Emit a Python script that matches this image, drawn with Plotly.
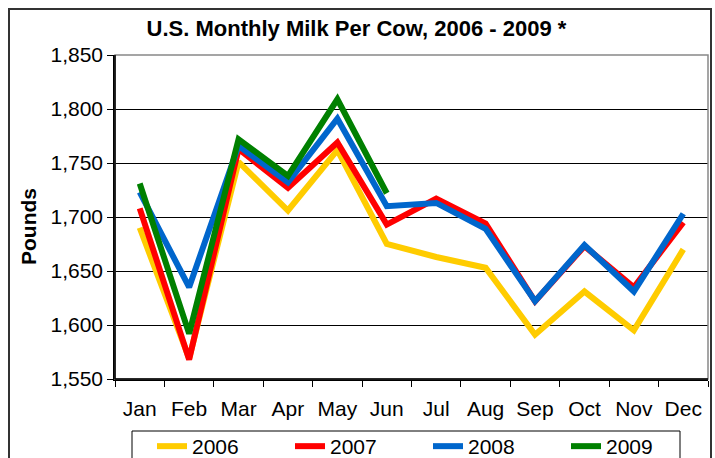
import plotly.graph_objects as go

months = ["Jan", "Feb", "Mar", "Apr", "May", "Jun", "Jul", "Aug", "Sep", "Oct", "Nov", "Dec"]
y2006 = [1690, 1569, 1751, 1706, 1762, 1675, 1663, 1653, 1591, 1631, 1595, 1670]
y2007 = [1708, 1568, 1763, 1727, 1769, 1693, 1717, 1694, 1622, 1673, 1635, 1695]
y2008 = [1723, 1635, 1766, 1732, 1791, 1710, 1713, 1689, 1622, 1674, 1631, 1703]
y2009 = [1731, 1592, 1772, 1738, 1809, 1722]

series = [
    ("2006", y2006, "#FFCC00"),
    ("2007", y2007, "#FF0000"),
    ("2008", y2008, "#0066CC"),
    ("2009", y2009, "#008000"),
]

FONT = "Liberation Sans, Arial, sans-serif"

fig = go.Figure()
for name, vals, color in series:
    fig.add_trace(go.Scatter(
        x=months[:len(vals)], y=vals, name=name, mode="lines",
        line=dict(color=color, width=6),
    ))

L, R, T, B = 115, 7, 55, 79
W, H = 715, 458
pw = W - L - R
ph = H - T - B

def px_x(x):
    return (x - L) / pw

def px_y(y):
    return (H - B - y) / ph

fig.update_layout(
    width=W, height=H,
    margin=dict(l=L, r=R, t=T, b=B, pad=0, autoexpand=False),
    paper_bgcolor="white", plot_bgcolor="white",
    font=dict(family=FONT, size=21, color="black"),
    title=dict(text="<b>U.S. Monthly Milk Per Cow, 2006 - 2009 *</b>",
               x=356.5 / W, xref="container", xanchor="center",
               y=1 - 28 / H, yref="container", yanchor="middle",
               font=dict(family=FONT, size=22, color="black")),
    xaxis=dict(type="category", categoryorder="array", categoryarray=months,
               range=[-0.5, 11.5], showgrid=False, showline=True,
               linecolor="black", linewidth=1.5, ticks="outside",
               tickson="boundaries", ticklen=6, tickcolor="black",
               tickfont=dict(size=21), ticklabelstandoff=10,
               zeroline=False, automargin=False),
    yaxis=dict(range=[1550, 1850], dtick=50, tickformat=",", showgrid=True,
               gridcolor="black", gridwidth=1, showline=True,
               linecolor="black", linewidth=1.5, ticks="outside",
               ticklen=6, tickcolor="black", tickfont=dict(size=21),
               zeroline=False, automargin=False),
    legend=dict(orientation="h", x=428 / W, xanchor="center", xref="container",
                y=1 - 426 / H, yanchor="top", yref="container",
                borderwidth=0,
                font=dict(family=FONT, size=21),
                entrywidth=93, entrywidthmode="pixels",
                bgcolor="rgba(0,0,0,0)"),
    showlegend=True,
    shapes=[
        dict(type="rect", xref="paper", yref="paper", x0=0, x1=1, y0=0, y1=1,
             line=dict(color="#888888", width=1.5), layer="above"),
        dict(type="line", xref="paper", yref="paper", x0=0, x1=0, y0=0, y1=1,
             line=dict(color="black", width=1.5), layer="above"),
        dict(type="line", xref="paper", yref="paper", x0=0, x1=1, y0=0, y1=0,
             line=dict(color="black", width=1.5), layer="above"),
        dict(type="rect", xref="paper", yref="paper",
             x0=px_x(9), x1=px_x(711), y0=px_y(520), y1=px_y(9),
             line=dict(color="#333333", width=2), layer="below"),
        dict(type="rect", xref="paper", yref="paper",
             x0=px_x(132), x1=px_x(680), y0=px_y(475), y1=px_y(431),
             line=dict(color="black", width=1), layer="below"),
    ],
    annotations=[
        dict(text="<b>Pounds</b>", textangle=-90, xref="paper", yref="paper",
             x=px_x(28), y=px_y(227), xanchor="center",
             yanchor="middle", showarrow=False,
             font=dict(family=FONT, size=21, color="black")),
    ],
)

fig.write_html("out.html",
               config={"displayModeBar": False},
               post_script="document.body.style.margin='0';document.body.style.overflow='hidden';")
